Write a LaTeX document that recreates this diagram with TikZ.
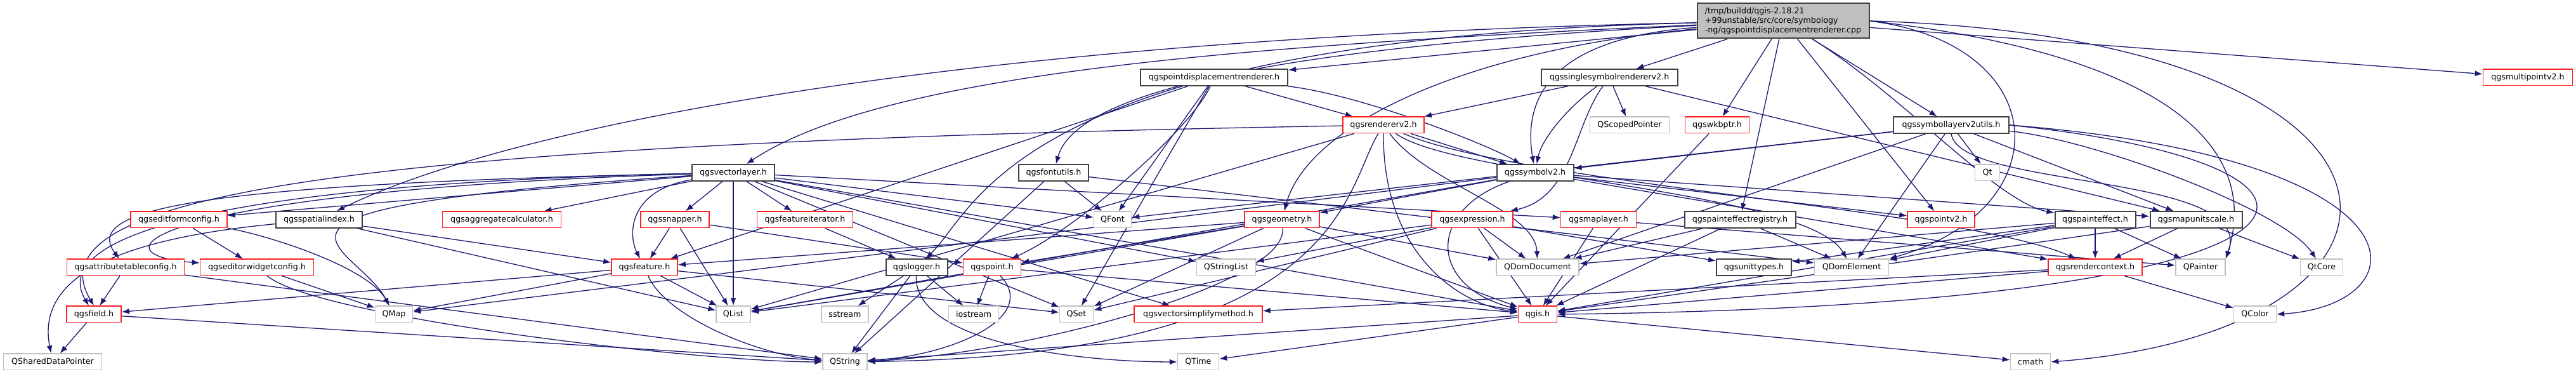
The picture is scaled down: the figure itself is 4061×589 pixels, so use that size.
\documentclass[tikz,border=0pt]{standalone}
\usepackage{fontspec}
\setmainfont{DejaVu Sans}
\usetikzlibrary{arrows.meta}
\pgfdeclarelayer{bg}
\pgfsetlayers{bg,main}
\definecolor{edgec}{HTML}{191970}
\definecolor{blackb}{HTML}{404040}
\definecolor{grayb}{HTML}{BFBFBF}
\definecolor{redb}{HTML}{FF2020}
\begin{document}
\begin{tikzpicture}[x=0.1pt,y=-0.1pt,
 nb/.style={draw, fill=white, inner sep=0pt, minimum height=2.55pt, font=\fontsize{1.27}{1.5}\selectfont, text=black},
 blk/.style={nb, draw=blackb, line width=0.2pt},
 rd/.style={nb, draw=redb, line width=0.15pt},
 gr/.style={nb, draw=grayb, line width=0.15pt},
 dep/.style={draw=edgec, line width=0.13pt, -{Latex[length=1.2pt,width=0.9pt]}}]
\useasboundingbox (0,0) rectangle (4061,589);
% row 1
\node[blk, fill=grayb, align=left, minimum width=27.1pt, minimum height=5.5pt] (T) at (2811,33) {/tmp/buildd/qgis-2.18.21\\+99unstable/src/core/symbology\\-ng/qgspointdisplacementrenderer.cpp};
% row 2
\node[blk, minimum width=23.2pt] (pdr) at (1914,122) {qgspointdisplacementrenderer.h};
\node[blk, minimum width=21.5pt] (singlesym) at (2537,122) {qgssinglesymbolrendererv2.h};
\node[rd, minimum width=14.1pt] (multipointv2) at (3985,122) {qgsmultipointv2.h};
% row 3
\node[rd, minimum width=12.8pt] (rendererv2) at (2181,197) {qgsrendererv2.h};
\node[gr, minimum width=12.5pt] (QScopedPointer) at (2569,197) {QScopedPointer};
\node[rd, minimum width=10.1pt] (wkbptr) at (2707,197) {qgswkbptr.h};
\node[blk, minimum width=18.2pt] (symlayerutils) at (3076,197) {qgssymbollayerv2utils.h};
% row 4
\node[blk, minimum width=13.0pt] (vectorlayer) at (1156,272) {qgsvectorlayer.h};
\node[blk, minimum width=11.0pt] (fontutils) at (1661,272) {qgsfontutils.h};
\node[blk, minimum width=12.1pt] (symbolv2) at (2420,272) {qgssymbolv2.h};
\node[gr, minimum width=3.9pt] (Qt) at (3133,272) {Qt};
% row 5
\node[rd, minimum width=15.2pt] (editformconfig) at (282,346) {qgseditformconfig.h};
\node[blk, minimum width=13.7pt] (spatialindex) at (503,346) {qgsspatialindex.h};
\node[rd, minimum width=18.7pt] (aggcalc) at (791,346) {qgsaggregatecalculator.h};
\node[rd, minimum width=10.8pt] (snapper) at (1064,346) {qgssnapper.h};
\node[rd, minimum width=15.1pt] (featureiterator) at (1269,346) {qgsfeatureiterator.h};
\node[gr, minimum width=5.9pt] (QFont) at (1754,346) {QFont};
\node[rd, minimum width=11.8pt] (geometry) at (2021,346) {qgsgeometry.h};
\node[rd, minimum width=12.8pt] (expression) at (2321,346) {qgsexpression.h};
\node[rd, minimum width=11.9pt] (maplayer) at (2520,346) {qgsmaplayer.h};
\node[blk, minimum width=17.5pt] (peregistry) at (2743,346) {qgspainteffectregistry.h};
\node[rd, minimum width=10.6pt] (pointv2) at (3060,346) {qgspointv2.h};
\node[blk, minimum width=12.7pt] (painteffect) at (3303,346) {qgspainteffect.h};
\node[blk, minimum width=14.5pt] (mapunitscale) at (3462,346) {qgsmapunitscale.h};
% row 6
\node[rd, minimum width=18.5pt] (attrtableconfig) at (198,421) {qgsattributetableconfig.h};
\node[rd, minimum width=17.9pt] (editorwidgetconfig) at (405,421) {qgseditorwidgetconfig.h};
\node[rd, minimum width=10.4pt] (feature) at (1016,421) {qgsfeature.h};
\node[blk, minimum width=9.7pt] (logger) at (1445,421) {qgslogger.h};
\node[rd, minimum width=9.1pt] (point) at (1564,421) {qgspoint.h};
\node[gr, minimum width=9.3pt] (QStringList) at (1933,421) {QStringList};
\node[gr, minimum width=13.0pt] (QDomDocument) at (2424,421) {QDomDocument};
\node[blk, minimum width=11.8pt] (unittypes) at (2765,421) {qgsunittypes.h};
\node[gr, minimum width=11.7pt] (QDomElement) at (2919,421) {QDomElement};
\node[rd, minimum width=14.8pt] (rendercontext) at (3303,421) {qgsrendercontext.h};
\node[gr, minimum width=7.8pt] (QPainter) at (3469,421) {QPainter};
\node[gr, minimum width=6.7pt] (QtCore) at (3660,421) {QtCore};
% row 7
\node[rd, minimum width=8.6pt] (field) at (148,495) {qgsfield.h};
\node[gr, minimum width=5.9pt] (QMap) at (621,495) {QMap};
\node[gr, minimum width=5.4pt] (QList) at (1156,495) {QList};
\node[gr, minimum width=7.4pt] (sstream) at (1332,495) {sstream};
\node[gr, minimum width=7.9pt] (iostream) at (1535,495) {iostream};
\node[gr, minimum width=5.3pt] (QSet) at (1697,495) {QSet};
\node[rd, minimum width=20.2pt] (vsimplify) at (1889,495) {qgsvectorsimplifymethod.h};
\node[rd, minimum width=6.1pt] (qgis) at (2424,495) {qgis.h};
\node[gr, minimum width=6.7pt] (QColor) at (3555,495) {QColor};
% row 8
\node[gr, minimum width=15.5pt] (QSharedDataPointer) at (83,570) {QSharedDataPointer};
\node[gr, minimum width=7.0pt] (QString) at (1332,570) {QString};
\node[gr, minimum width=6.5pt] (QTime) at (1889,570) {QTime};
\node[gr, minimum width=6.3pt] (cmath) at (3201,570) {cmath};

\begin{pgfonlayer}{bg}
\fill[white] (0,0) rectangle (4061,589);
% top node
\draw[dep] (T) -- (pdr);
\draw[dep] (T) .. controls (2000,70) and (1400,110) .. (vectorlayer);
\draw[dep] (T) .. controls (2100,70) and (1700,130) .. (fontutils);
\draw[dep] (T) .. controls (1600,60) and (1540,330) .. (logger);
\draw[dep] (T) .. controls (1500,60) and (800,200) .. (spatialindex);
\draw[dep] (T) .. controls (2300,80) and (2060,200) .. (geometry);
\draw[dep] (T) .. controls (2450,60) and (2400,150) .. (symbolv2);
\draw[dep] (T) -- (singlesym);
\draw[dep] (T) -- (wkbptr);
\draw[dep] (T) -- (peregistry);
\draw[dep] (T) -- (pointv2);
\draw[dep] (T) .. controls (3000,150) and (3150,320) .. (painteffect);
\draw[dep] (T) -- (symlayerutils);
\draw[dep] (T.east) .. controls (3240,70) and (3250,330) .. (QDomElement.north east);
\draw[dep] (T.east) .. controls (3450,90) and (3560,250) .. (QPainter.north east);
\draw[dep] (T.east) .. controls (3880,60) and (3880,520) .. (cmath.east);
\draw[dep] (T) -- (multipointv2);
% pdr
\draw[dep] (pdr) -- (feature);
\draw[dep] (pdr) .. controls (2150,150) and (2350,230) .. (symbolv2);
\draw[dep] (pdr) .. controls (1880,200) and (1700,360) .. (point);
\draw[dep] (pdr) -- (rendererv2);
\draw[dep] (pdr) -- (QFont);
\draw[dep] (pdr) -- (QSet);
% singlesym
\draw[dep] (singlesym) -- (rendererv2);
\draw[dep] (singlesym) .. controls (2470,170) and (2430,220) .. (symbolv2);
\draw[dep] (singlesym) -- (QScopedPointer);
\draw[dep] (singlesym) .. controls (2480,200) and (2480,310) .. (expression);
\draw[dep] (singlesym) -- (mapunitscale);
% rendererv2
\draw[dep] (rendererv2) .. controls (600,225) and (40,300) .. (field.north);
\draw[dep] (rendererv2) .. controls (2180,400) and (2300,480) .. (qgis);
\draw[dep] (rendererv2) -- (QList);
\draw[dep] (rendererv2) .. controls (2118,300) and (2118,560) .. (QString);
\draw[dep] (rendererv2) .. controls (2250,290) and (2420,330) .. (QDomDocument);
\draw[dep] (rendererv2) .. controls (2300,280) and (2850,300) .. (QDomElement);
\draw[dep] (rendererv2) -- (symbolv2);
\draw[dep] (rendererv2) .. controls (2400,290) and (3100,330) .. (rendercontext);
% vectorlayer
\draw[dep] (vectorlayer) -- (editformconfig);
\draw[dep] (vectorlayer) .. controls (300,290) and (130,330) .. (attrtableconfig);
\draw[dep] (vectorlayer) .. controls (250,300) and (130,400) .. (editorwidgetconfig);
\draw[dep] (vectorlayer) .. controls (300,290) and (80,380) .. (field);
\draw[dep] (vectorlayer) .. controls (300,330) and (560,380) .. (QMap);
\draw[dep] (vectorlayer) -- (aggcalc);
\draw[dep] (vectorlayer) -- (snapper);
\draw[dep] (vectorlayer) -- (featureiterator);
\draw[dep] (vectorlayer) .. controls (990,300) and (990,370) .. (feature);
\draw[dep] (vectorlayer) -- (QList);
\draw[dep] (vectorlayer) -- (QSet);
\draw[dep] (vectorlayer) -- (QStringList);
\draw[dep] (vectorlayer) -- (QFont);
\draw[dep] (vectorlayer) -- (vsimplify);
\draw[dep] (vectorlayer) -- (qgis);
\draw[dep] (vectorlayer) -- (maplayer);
% fontutils
\draw[dep] (fontutils) -- (QFont);
\draw[dep] (fontutils) -- (QString);
\draw[dep] (fontutils) -- (QDomElement);
% logger
\draw[dep] (logger) -- (sstream);
\draw[dep] (logger) -- (QString);
\draw[dep] (logger) -- (iostream);
\draw[dep] (logger) .. controls (1440,540) and (1700,570) .. (QTime);
% point
\draw[dep] (point) -- (iostream);
\draw[dep] (point) .. controls (1640,500) and (1500,560) .. (QString);
\draw[dep] (point) -- (qgis);
% spatialindex
\draw[dep] (spatialindex) .. controls (150,380) and (60,450) .. (QSharedDataPointer);
\draw[dep] (spatialindex) -- (feature);
\draw[dep] (spatialindex) -- (QList);
% editformconfig
\draw[dep] (editformconfig) -- (editorwidgetconfig);
\draw[dep] (editformconfig) .. controls (420,370) and (580,420) .. (QMap);
% editorwidgetconfig
\draw[dep] (editorwidgetconfig) -- (QMap);
\draw[dep] (editorwidgetconfig) .. controls (500,500) and (1100,570) .. (QString);
% attrtableconfig
\draw[dep] (attrtableconfig) -- (field);
\draw[dep] (attrtableconfig) -- (QString);
% field
\draw[dep] (field) -- (QSharedDataPointer);
\draw[dep] (field) -- (QString);
% feature
\draw[dep] (feature) -- (field);
\draw[dep] (feature) -- (QMap);
\draw[dep] (feature) -- (QList);
\draw[dep] (feature) .. controls (1050,500) and (1200,560) .. (QString);
\draw[dep] (feature) -- (QSet);
% snapper
\draw[dep] (snapper) -- (feature);
\draw[dep] (snapper) -- (QList);
\draw[dep] (snapper) -- (point);
% featureiterator
\draw[dep] (featureiterator) -- (logger);
% geometry
\draw[dep] (geometry) -- (QDomDocument);
\draw[dep] (geometry) -- (QSet);
\draw[dep] (geometry) .. controls (2030,450) and (1600,560) .. (QString);
\draw[dep] (geometry) -- (qgis);
\draw[dep] (geometry) -- (point);
\draw[dep] (geometry) -- (feature);
\draw[dep] (geometry) -- (QList);
% expression
\draw[dep] (expression) -- (QStringList);
\draw[dep] (expression) -- (QDomDocument);
\draw[dep] (expression) -- (qgis);
\draw[dep] (expression) -- (unittypes);
\draw[dep] (expression) -- (QList);
\draw[dep] (expression) -- (QSet);
% maplayer
\draw[dep] (maplayer) -- (qgis);
\draw[dep] (maplayer) -- (QPainter);
% symbolv2
\draw[dep] (symbolv2) -- (geometry);
\draw[dep] (symbolv2) .. controls (2250,330) and (2250,450) .. (qgis);
\draw[dep] (symbolv2) -- (pointv2);
\draw[dep] (symbolv2) -- (mapunitscale);
\draw[dep] (symbolv2) -- (rendercontext);
\draw[dep] (symbolv2) -- (QMap);
\draw[dep] (symbolv2) -- (QList);
% symlayerutils
\draw[dep] (symlayerutils) -- (symbolv2);
\draw[dep] (symlayerutils) -- (QDomDocument);
\draw[dep] (symlayerutils) -- (QDomElement);
\draw[dep] (symlayerutils.east) .. controls (3780,260) and (3760,480) .. (qgis.east);
\draw[dep] (symlayerutils.east) .. controls (3840,250) and (3820,480) .. (QColor.east);
\draw[dep] (symlayerutils.south) .. controls (3090,300) and (3560,270) .. (QPainter.north east);
\draw[dep] (symlayerutils) -- (Qt);
\draw[dep] (symlayerutils) .. controls (3300,220) and (3600,330) .. (QtCore);
\draw[dep] (symlayerutils) -- (mapunitscale);
\draw[dep] (symlayerutils) -- (QFont);
% wkbptr
\draw[dep] (wkbptr) -- (qgis);
% peregistry
\draw[dep] (peregistry) -- (QDomDocument);
\draw[dep] (peregistry) -- (QDomElement);
\draw[dep] (peregistry) -- (qgis);
% painteffect
\draw[dep] (painteffect) -- (QDomDocument);
\draw[dep] (painteffect) -- (unittypes);
\draw[dep] (painteffect) -- (qgis);
\draw[dep] (painteffect) -- (rendercontext);
\draw[dep] (painteffect) -- (QPainter);
\draw[dep] (painteffect) -- (QDomElement);
% rendercontext
\draw[dep] (rendercontext) -- (vsimplify);
\draw[dep] (rendercontext) -- (QColor);
\draw[dep] (rendercontext) -- (qgis);
% mapunitscale
\draw[dep] (mapunitscale) -- (rendercontext);
\draw[dep] (mapunitscale) -- (QtCore);
\draw[dep] (mapunitscale) -- (qgis);
% qgis
\draw[dep] (qgis) -- (QString);
\draw[dep] (qgis) -- (QTime);
\draw[dep] (qgis) -- (cmath);
\end{pgfonlayer}
\end{tikzpicture}
\end{document}
